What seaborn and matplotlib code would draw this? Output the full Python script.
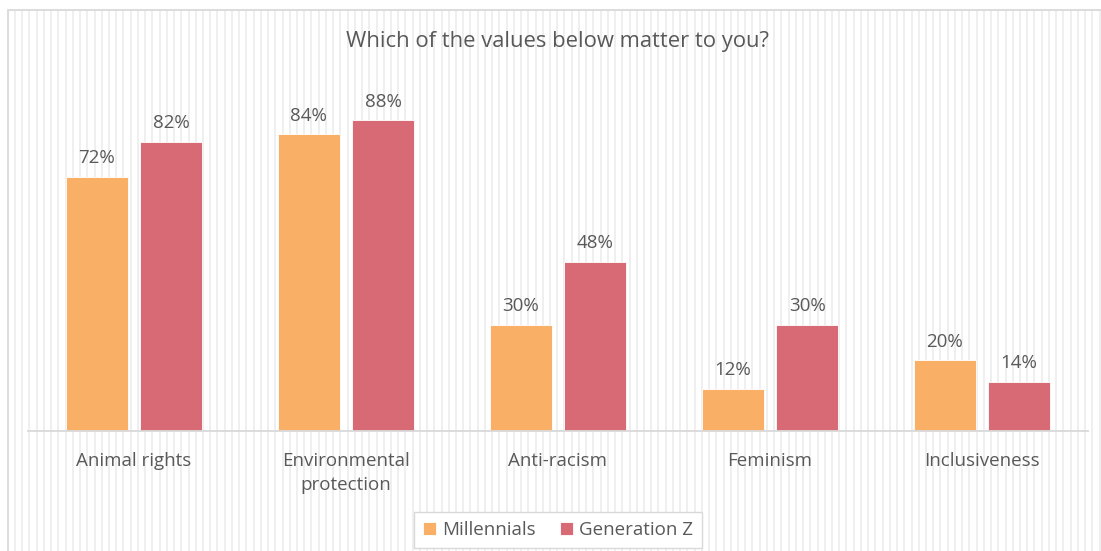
import matplotlib
matplotlib.use("Agg")
import matplotlib.pyplot as plt
import seaborn as sns
import pandas as pd
import numpy as np
from matplotlib.collections import LineCollection
from matplotlib.patches import Rectangle

categories = ["Animal rights", "Environmental\nprotection", "Anti-racism", "Feminism", "Inclusiveness"]
series_names = ["Millennials", "Generation Z"]
millennials = [72, 84, 30, 12, 20]
gen_z = [82, 88, 48, 30, 14]
title = "Which of the values below matter to you?"

orange = "#F9AF66"
red = "#D86A76"
text_color = "#595959"

df = pd.DataFrame({
    "category": categories * 2,
    "value": millennials + gen_z,
    "series": [series_names[0]] * len(categories) + [series_names[1]] * len(categories),
})

sns.set_theme(style="white")
plt.rcParams['font.family'] = ['Open Sans', 'DejaVu Sans']

W, H = 1101, 551
fig = plt.figure(figsize=(W / 100, H / 100), dpi=100)
fig.patch.set_facecolor("white")

# striped background pattern
xs = np.arange(15, W, 7.23)
segs = [[(x / W, 0), (x / W, 1 - 10 / H)] for x in xs]
lc = LineCollection(segs, transform=fig.transFigure, colors="#eeeeee", linewidths=1.3, zorder=-2)
fig.add_artist(lc)
frame = Rectangle((8 / W, -0.1), 1.2, 1 - 10 / H + 0.1, transform=fig.transFigure,
                  fill=False, edgecolor="#d9d9d9", lw=1.3, zorder=-1)
fig.add_artist(frame)

ax = fig.add_axes([28 / W, 120 / H, 1060 / W, 353 / H])
ax.patch.set_alpha(0)
sns.barplot(data=df, x="category", y="value", hue="series", hue_order=series_names,
            palette=[orange, red], width=0.7, gap=0.166, ax=ax,
            edgecolor="#ffffff", linewidth=0.6, saturation=1)
ax.set_ylim(0, 100)
ax.set_xlim(-0.5, len(categories) - 0.5)
ax.set_xlabel("")
ax.set_ylabel("")
ax.set_yticks([])
for s in ["top", "left", "right"]:
    ax.spines[s].set_visible(False)
ax.spines["bottom"].set_color("#d9d9d9")
ax.spines["bottom"].set_linewidth(1.3)
ax.tick_params(axis="x", length=0, pad=15, labelsize=13.5, labelcolor=text_color)
for t in ax.get_xticklabels():
    t.set_linespacing(1.45)

for cont in ax.containers:
    ax.bar_label(cont, fmt="%d%%", padding=7, fontsize=13.5, color=text_color)

handles, labels = ax.get_legend_handles_labels()
if ax.get_legend() is not None:
    ax.get_legend().remove()
leg = fig.legend(handles, labels, loc="center", bbox_to_anchor=(558 / W, 1 - 530 / H), ncol=2,
                 frameon=True, fancybox=False, edgecolor="#d9d9d9", facecolor="white", framealpha=1,
                 handlelength=0.7, handleheight=0.7, columnspacing=1.3, handletextpad=0.3,
                 fontsize=13.5, borderpad=0.5, borderaxespad=0)
for t in leg.get_texts():
    t.set_color(text_color)
leg.get_frame().set_linewidth(1.0)

fig.text(558 / W, 1 - 42 / H, title, ha="center", va="center", fontsize=15.8, color=text_color)

fig.savefig("out.png", dpi=100)
